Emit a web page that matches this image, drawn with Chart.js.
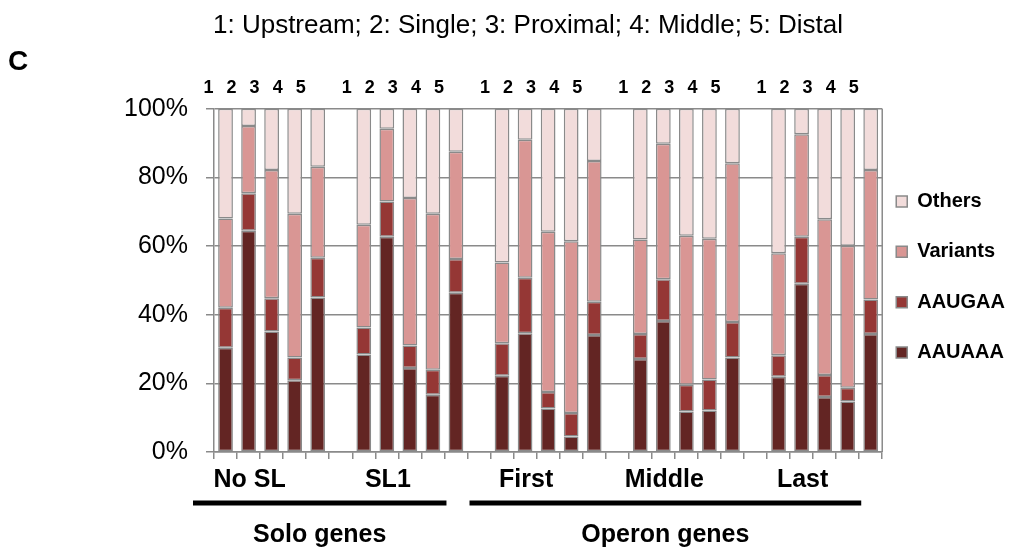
<!DOCTYPE html>
<html>
<head>
<meta charset="utf-8">
<script src="https://cdn.jsdelivr.net/npm/chart.js@4"></script>
<style>
  html, body { margin: 0; padding: 0; background: #fff; }
  #wrap { width: 1023px; height: 557px; }
</style>
</head>
<body>
<div id="wrap"><canvas id="utr-chart"></canvas></div>
<script>
// top digits, one per slot ('' = gap between groups)
const positions = ['1','2','3','4','5','', '1','2','3','4','5','', '1','2','3','4','5','', '1','2','3','4','5','', '1','2','3','4','5'];
const groupNames = ['No SL', 'SL1', 'First', 'Middle', 'Last'];
const sectionNames = ['Solo genes', 'Operon genes'];
const sectionFrom = [0, 12];
const sectionTo = [10, 28];
const seriesNames = ['AAUAAA', 'AAUGAA', 'Variants', 'Others'];

// percent of each signal class per bar
const aauaaa   = [30.4,64.5,35.1,20.9,45.0,null, 28.4,62.7,24.5,16.7,46.4,null, 22.2,34.6,12.7,4.5,34.1,null, 27.1,38.2,11.8,12.1,27.5,null, 21.9,49.0,16.0,14.7,34.4];
const aaugaa   = [11.6,10.9,9.7,6.6,11.6,null, 7.9,10.3,6.5,7.3,9.8,null, 9.5,16.2,4.8,6.9,9.7,null, 7.3,12.1,7.8,9.0,10.4,null, 6.3,13.7,6.4,4.0,10.0];
const variants = [26.0,19.6,37.4,41.9,26.5,null, 29.9,21.2,43.0,45.4,31.3,null, 23.5,40.2,46.7,50.0,41.0,null, 27.5,39.5,43.4,41.0,46.2,null, 29.7,29.9,45.4,41.4,37.8];
const others   = [32.0,5.0,17.8,30.6,16.9,null, 33.8,5.8,26.0,30.6,12.5,null, 44.8,9.0,35.8,38.6,15.2,null, 38.1,10.2,37.0,37.9,15.9,null, 42.1,7.4,32.2,39.9,17.8];
const yTicks = [0, 20, 40, 60, 80, 100];

(function(){

    const font = 'Liberation Sans, Arial, sans-serif';
    const grey = '#8a8a8a';
    const colors = ['#632523', '#953735', '#d99694', '#f2dcdb'];

    Chart.defaults.font.family = font;
    Chart.defaults.color = '#000';

    // group name under the middle bar of every group
    const bottomLabels = positions.map((p, i) => (i % 6 === 2 ? groupNames[Math.floor(i / 6)] : ''));

    const padLeft = 41;
    const padRight = 8;

    const extras = {
        id: 'extras',
        afterDraw(chart){
            const ctx = chart.ctx;
            const x = chart.scales.x;
            const area = chart.chartArea;
            const step = x.getPixelForValue(1) - x.getPixelForValue(0);

            ctx.save();
            ctx.strokeStyle = grey;
            ctx.lineWidth = 1.5;
            ctx.beginPath();
            ctx.moveTo(area.right, area.top);
            ctx.lineTo(area.right, area.bottom);
            ctx.stroke();

            ctx.fillStyle = '#000';
            ctx.font = 'bold 28px ' + font;
            ctx.textAlign = 'left';
            ctx.textBaseline = 'middle';
            ctx.fillText('C', 8, 62);

            ctx.font = 'bold 25px ' + font;
            sectionNames.forEach((name, i) => {
                const left = x.getPixelForValue(sectionFrom[i]) - step / 2 - 21;
                const right = x.getPixelForValue(sectionTo[i]) + step / 2 - 21;
                ctx.strokeStyle = '#000';
                ctx.lineWidth = 5;
                ctx.beginPath();
                ctx.moveTo(left, 503);
                ctx.lineTo(right, 503);
                ctx.stroke();
                ctx.textAlign = 'center';
                ctx.textBaseline = 'alphabetic';
                ctx.fillText(name, (left + right) / 2, 542);
            });
            ctx.restore();
        }
    };

    const series = [aauaaa, aaugaa, variants, others];

    new Chart(document.getElementById('utr-chart'), {
        type: 'bar',
        data: {
            labels: bottomLabels,
            datasets: series.map((values, i) => ({
                label: seriesNames[i],
                data: values,
                backgroundColor: colors[i],
                borderColor: grey,
                borderWidth: 1.5,
                borderSkipped: false,
                barPercentage: 0.64,
                categoryPercentage: 1
            }))
        },
        options: {
            responsive: true,
            maintainAspectRatio: false,
            animation: false,
            layout: {
                padding: { left: padLeft, right: padRight, top: 0, bottom: 56 }
            },
            scales: {
                x: {
                    stacked: true,
                    offset: true,
                    grid: { display: true, drawOnChartArea: false, tickLength: 7, color: grey, lineWidth: 1.5, offset: true },
                    border: { display: true, color: grey, width: 1.5 },
                    ticks: {
                        autoSkip: false, maxRotation: 0, minRotation: 0,
                        padding: 6, labelOffset: -22,
                        font: { size: 25, weight: 'bold' }
                    }
                },
                x2: {
                    type: 'category',
                    position: 'top',
                    labels: positions,
                    offset: true,
                    grid: { display: false, drawTicks: false },
                    border: { display: false },
                    ticks: {
                        autoSkip: false, maxRotation: 0, minRotation: 0,
                        padding: 10, labelOffset: -17,
                        font: { size: 18, weight: 'bold' }
                    }
                },
                y: {
                    stacked: true,
                    min: 0,
                    max: 100,
                    afterFit(scale){ scale.width = 214 - padLeft; },
                    afterBuildTicks(scale){ scale.ticks = yTicks.map(v => ({ value: v })); },
                    grid: { color: grey, lineWidth: 1.5, tickLength: 8 },
                    border: { color: grey, width: 1.5 },
                    ticks: {
                        padding: 18,
                        font: { size: 25 },
                        callback: v => v + '%'
                    }
                }
            },
            plugins: {
                title: {
                    display: true,
                    text: '1: Upstream; 2: Single; 3: Proximal; 4: Middle; 5: Distal',
                    font: { size: 26, weight: 'normal' },
                    color: '#000',
                    padding: { top: 10, bottom: 26 }
                },
                legend: {
                    position: 'right',
                    fullSize: false,
                    reverse: true,
                    title: { display: true, text: '', font: { size: 8 }, padding: 0 },
                    labels: {
                        boxWidth: 11,
                        boxHeight: 11,
                        padding: 14,
                        color: '#000',
                        font: { size: 20, weight: 'bold', lineHeight: 1.82 },
                        generateLabels(chart){
                            return Chart.defaults.plugins.legend.labels.generateLabels(chart)
                                .map(item => Object.assign(item, { text: [item.text] }));
                        }
                    }
                },
                tooltip: { enabled: false }
            }
        },
        plugins: [extras]
    });
})();
</script>
</body>
</html>
